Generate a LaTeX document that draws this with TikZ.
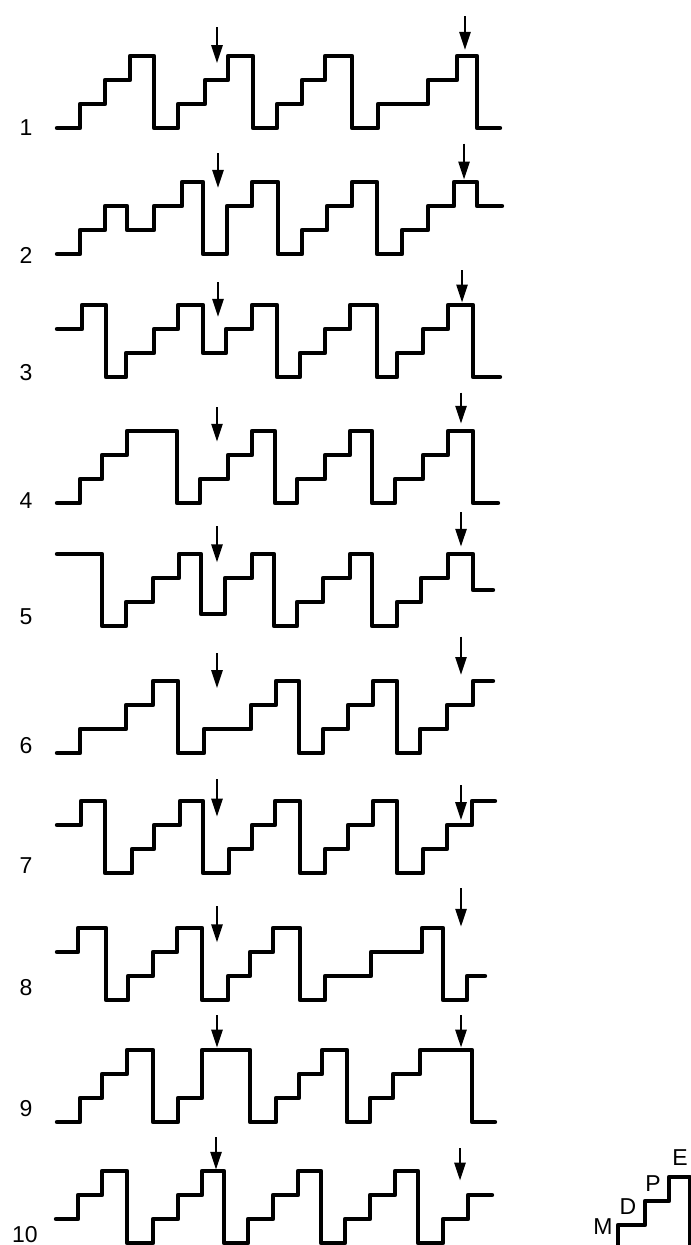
\documentclass[tikz,border=0pt]{standalone}
\usepackage{fontspec}
\setsansfont{Liberation Sans}
\usetikzlibrary{arrows.meta}

\tikzset{
    wave/.style={line width=2.2pt, line join=round, line cap=round},
    pick/.style={line width=1.3pt, -{Triangle[length=9pt, width=5.5pt]}},
    num/.style={font=\sffamily\fontsize{11.5}{13}\selectfont, inner sep=0pt},
}

\begin{document}
\begin{tikzpicture}[x=0.5pt, y=12pt]
    \useasboundingbox (0,0) rectangle (690,-51.875);

    % 1
    \begin{scope}[yshift=-64pt]
        \node[num] (n1) at (26,0) {1};
        \draw[wave] (57,0) -| (80,1) -| (105,2) -| (130,3) -| (154,0) -| (178,1) -| (205,2) -| (228,3) -| (253,0) -| (277,1) -| (302,2) -| (325,3) -| (352,0) -| (378,1) -| (428,2) -| (457,3) -| (477,0) -- (500,0);
        \draw[pick] (217,4.2) -- (217,2.7);
        \draw[pick] (465,4.65) -- (465,3.25);
    \end{scope}

    % 2
    \begin{scope}[yshift=-127pt]
        \node[num] (n2) at (26,-0.08) {2};
        \draw[wave] (57,0) -| (80,1) -| (105,2) -| (127,1) -| (154,2) -| (182,3) -| (203,0) -| (227,2) -| (252,3) -| (278,0) -| (302,1) -| (327,2) -| (352,3) -| (377,0) -| (402,1) -| (428,2) -| (454,3) -| (477,2) -- (502,2);
        \draw[pick] (218,4.2) -- (218,2.75);
        \draw[pick] (464,4.6) -- (464,3.1);
    \end{scope}

    % 3
    \begin{scope}[yshift=-188.5pt]
        \node[num] (n3) at (26,0.2) {3};
        \draw[wave] (57,2) -| (82,3) -| (106,0) -| (126,1) -| (154,2) -| (178,3) -| (203,1) -| (226,2) -| (252,3) -| (277,0) -| (300,1) -| (325,2) -| (350,3) -| (377,0) -| (397,1) -| (423,2) -| (448,3) -| (473,0) -- (500,0);
        \draw[pick] (218,3.95) -- (218,2.5);
        \draw[pick] (462,4.45) -- (462,3.1);
    \end{scope}

    % 4
    \begin{scope}[yshift=-251.5pt]
        \node[num] (n4) at (26,0.12) {4};
        \draw[wave] (57,0) -| (80,1) -| (102,2) -| (127,3) -| (177,0) -| (200,1) -| (228,2) -| (252,3) -| (275,0) -| (297,1) -| (325,2) -| (350,3) -| (372,0) -| (395,1) -| (423,2) -| (448,3) -| (473,0) -- (498,0);
        \draw[pick] (217,4.0) -- (217,2.55);
        \draw[pick] (461,4.6) -- (461,3.3);
    \end{scope}

    % 5
    \begin{scope}[yshift=-313pt]
        \node[num] (n5) at (26,0.37) {5};
        \draw[wave] (57,3) -| (102,0) -| (126,1) -| (153,2) -| (179,3) -| (201,0.5) -| (225,2) -| (252,3) -| (274,0) -| (297,1) -| (323,2) -| (350,3) -| (372,0) -| (397,1) -| (421,2) -| (448,3) -| (473,1.5) -- (493,1.5);
        \draw[pick] (217,4.15) -- (217,2.65);
        \draw[pick] (461,4.75) -- (461,3.3);
    \end{scope}

    % 6
    \begin{scope}[yshift=-376.5pt]
        \node[num] (n6) at (26,0.3) {6};
        \draw[wave] (57,0) -| (80,1) -| (126,2) -| (153,3) -| (178,0) -| (204,1) -| (251,2) -| (276,3) -| (299,0) -| (323,1) -| (348,2) -| (373,3) -| (397,0) -| (420,1) -| (447,2) -| (473,3) -- (493,3);
        \draw[pick] (217,4.15) -- (217,2.7);
        \draw[pick] (461,4.85) -- (461,3.25);
    \end{scope}

    % 7
    \begin{scope}[yshift=-436.5pt]
        \node[num] (n7) at (26,0.3) {7};
        \draw[wave] (57,2) -| (81,3) -| (105,0) -| (132,1) -| (154,2) -| (180,3) -| (203,0) -| (229,1) -| (252,2) -| (275,3) -| (300,0) -| (325,1) -| (348,2) -| (373,3) -| (397,0) -| (423,1) -| (447,2) -| (472,3) -- (495,3);
        \draw[pick] (217,3.9) -- (217,2.35);
        \draw[pick] (461,3.65) -- (461,2.2);
    \end{scope}

    % 8
    \begin{scope}[yshift=-500pt]
        \node[num] (n8) at (26,0.5) {8};
        \draw[wave] (57,2) -| (78,3) -| (106,0) -| (128,1) -| (153,2) -| (177,3) -| (202,0) -| (228,1) -| (250,2) -| (273,3) -| (300,0) -| (325,1) -| (371,2) -| (422,3) -| (443,0) -| (467,1) -- (485,1);
        \draw[pick] (217,3.9) -- (217,2.4);
        \draw[pick] (461,4.65) -- (461,3.05);
    \end{scope}

    % 9
    \begin{scope}[yshift=-561pt]
        \node[num] (n9) at (26,0.54) {9};
        \draw[wave] (57,0) -| (80,1) -| (102,2) -| (127,3) -| (153,0) -| (178,1) -| (202,3) -| (250,0) -| (276,1) -| (299,2) -| (322,3) -| (347,0) -| (370,1) -| (393,2) -| (420,3) -| (472,0) -- (495,0);
        \draw[pick] (217,4.45) -- (217,3.1);
        \draw[pick] (461,4.45) -- (461,3.1);
    \end{scope}

    % 10
    \begin{scope}[yshift=-621.5pt]
        \node[num] (n10) at (25,0.37) {10};
        \draw[wave] (56,1) -| (78,2) -| (102,3) -| (127,0) -| (153,1) -| (178,2) -| (202,3) -| (224,0) -| (248,1) -| (273,2) -| (298,3) -| (321,0) -| (345,1) -| (370,2) -| (395,3) -| (418,0) -| (443,1) -| (468,2) -- (492,2);
        \draw[pick] (216,4.4) -- (216,3.05);
        \draw[pick] (460,3.95) -- (460,2.6);
    \end{scope}

    % M D P E
    \begin{scope}[yshift=-624.5pt]
        \draw[wave] (618,0) |- (645,1) |- (669,2) |- (690,3) -- (690,0);
        \node[num] (m) at (603,0.94) {M};
        \node[num] (d) at (628,1.77) {D};
        \node[num] (p) at (653,2.73) {P};
        \node[num] (e) at (680,3.81) {E};
    \end{scope}
\end{tikzpicture}
\end{document}
